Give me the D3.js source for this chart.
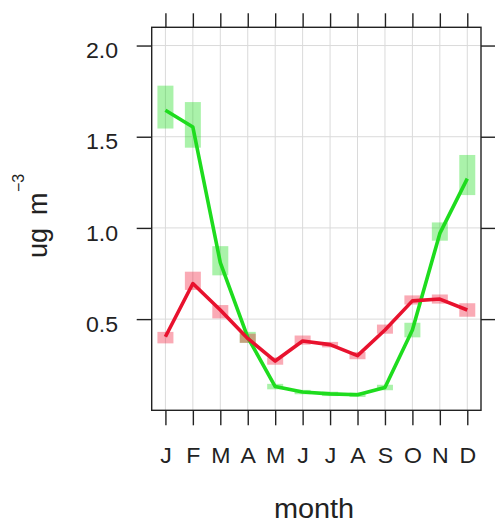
<!DOCTYPE html>
<html>
<head>
<meta charset="utf-8">
<script src="https://cdn.jsdelivr.net/npm/d3@7"></script>
<style>
  html, body { margin: 0; padding: 0; background: #fff; }
  svg { display: block; }
  text { font-family: "Liberation Sans", Arial, Helvetica, sans-serif; fill: #222; }
</style>
</head>
<body>
<svg id="chart" width="495" height="525"></svg>
<script>
// Monthly means with confidence bands, two pollutants
const monthLabels = ["J", "F", "M", "A", "M", "J", "J", "A", "S", "O", "N", "D"];
const monthNumbers = [1, 2, 3, 4, 5, 6, 7, 8, 9, 10, 11, 12];
const yTickValues = [0.5, 1.0, 1.5, 2.0];

const greenMean  = [1.645, 1.553, 0.81, 0.40, 0.13, 0.10, 0.09, 0.085, 0.125, 0.44, 0.97, 1.27];
const greenLower = [1.545, 1.44, 0.74, 0.37, 0.115, 0.088, 0.078, 0.073, 0.11, 0.40, 0.93, 1.18];
const greenUpper = [1.78, 1.69, 0.90, 0.43, 0.145, 0.112, 0.102, 0.097, 0.14, 0.48, 1.03, 1.40];

const redMean  = [0.403, 0.695, 0.55, 0.394, 0.27, 0.38, 0.36, 0.30, 0.44, 0.60, 0.61, 0.55];
const redLower = [0.367, 0.66, 0.504, 0.37, 0.25, 0.36, 0.345, 0.28, 0.42, 0.58, 0.585, 0.513];
const redUpper = [0.43, 0.76, 0.577, 0.42, 0.29, 0.41, 0.375, 0.32, 0.47, 0.63, 0.635, 0.587];

const svg = d3.select("#chart");

const panel = { left: 151.7, right: 481, top: 27.3, bottom: 410.3 };
const x = d3.scaleLinear().domain([0.5, 12.5]).range([panel.left, panel.right]);
const y = d3.scaleLinear().domain([0, 2.1]).range([panel.bottom, panel.top]);

const textStretch = 1.05;

// grid
const grid = svg.append("g").attr("stroke", "#dadada").attr("stroke-width", 1);
grid.selectAll("line.v").data(monthNumbers).join("line")
  .attr("class", "v")
  .attr("x1", d => x(d)).attr("x2", d => x(d))
  .attr("y1", panel.top).attr("y2", panel.bottom);
grid.selectAll("line.h").data(yTickValues).join("line")
  .attr("class", "h")
  .attr("x1", panel.left).attr("x2", panel.right)
  .attr("y1", d => y(d)).attr("y2", d => y(d));

// confidence bands drawn as translucent boxes
function bands(mean, lower, upper, fill) {
  svg.append("g").selectAll("rect").data(mean).join("rect")
    .attr("x", (d, i) => x(monthNumbers[i]) - 8)
    .attr("width", 16)
    .attr("y", (d, i) => y(upper[i]))
    .attr("height", (d, i) => y(lower[i]) - y(upper[i]))
    .attr("fill", fill);
}
bands(greenMean, greenLower, greenUpper, "rgba(20,220,20,0.36)");
bands(redMean, redLower, redUpper, "rgba(240,20,50,0.36)");

const line = d3.line().x((d, i) => x(monthNumbers[i])).y(d => y(d));
svg.append("path").datum(greenMean)
  .attr("d", line).attr("fill", "none")
  .attr("stroke", "#1edc1e").attr("stroke-width", 3.6).attr("stroke-linejoin", "round");
svg.append("path").datum(redMean)
  .attr("d", line).attr("fill", "none")
  .attr("stroke", "#e8122e").attr("stroke-width", 3.6).attr("stroke-linejoin", "round");

// panel border
svg.append("rect")
  .attr("x", panel.left).attr("y", panel.top)
  .attr("width", panel.right - panel.left).attr("height", panel.bottom - panel.top)
  .attr("fill", "none").attr("stroke", "#222").attr("stroke-width", 1.4);

function styleAxis(g) {
  g.select(".domain").remove();
  g.selectAll(".tick line").attr("stroke", "#222").attr("stroke-width", 1.4);
}

// bottom axis with month letters
const axisB = svg.append("g")
  .attr("transform", `translate(0,${panel.bottom})`)
  .call(d3.axisBottom(x).tickValues(monthNumbers)
    .tickFormat(d => monthLabels[d - 1]).tickSize(15).tickPadding(22.5));
styleAxis(axisB);
axisB.selectAll(".tick text")
  .attr("font-size", 22)
  .attr("font-family", "Liberation Sans, Arial, sans-serif")
  .attr("fill", "#222")
  .attr("transform", `scale(${textStretch},1)`);

// top axis, ticks only
const axisT = svg.append("g")
  .attr("transform", `translate(0,${panel.top})`)
  .call(d3.axisTop(x).tickValues(monthNumbers).tickFormat("").tickSize(14));
styleAxis(axisT);

// left axis with values
const axisL = svg.append("g")
  .attr("transform", `translate(${panel.left},0)`)
  .call(d3.axisLeft(y).tickValues(yTickValues).tickFormat(d3.format(".1f")).tickSize(15));
styleAxis(axisL);
axisL.selectAll(".tick text")
  .attr("font-size", 22)
  .attr("font-family", "Liberation Sans, Arial, sans-serif")
  .attr("fill", "#222")
  .attr("x", -33.7 / textStretch)
  .attr("dy", "0.55em")
  .attr("transform", `scale(${textStretch},1)`);

// right axis, ticks only
const axisR = svg.append("g")
  .attr("transform", `translate(${panel.right},0)`)
  .call(d3.axisRight(y).tickValues(yTickValues).tickFormat("").tickSize(14));
styleAxis(axisR);

// x axis title
svg.append("text")
  .attr("transform", `translate(314,518) scale(${textStretch},1)`)
  .attr("text-anchor", "middle")
  .attr("font-size", 27.5)
  .text("month");

// y axis title: ug m^-3
const yTitle = svg.append("g").attr("transform", "translate(47,258) rotate(-90)");
yTitle.append("text").attr("x", 0).attr("y", 0).attr("font-size", 27).text("ug");
yTitle.append("text").attr("x", 43).attr("y", 0).attr("font-size", 27).text("m");
yTitle.append("text").attr("x", 66).attr("y", -23).attr("font-size", 16).text("\u22123");
</script>
</body>
</html>
